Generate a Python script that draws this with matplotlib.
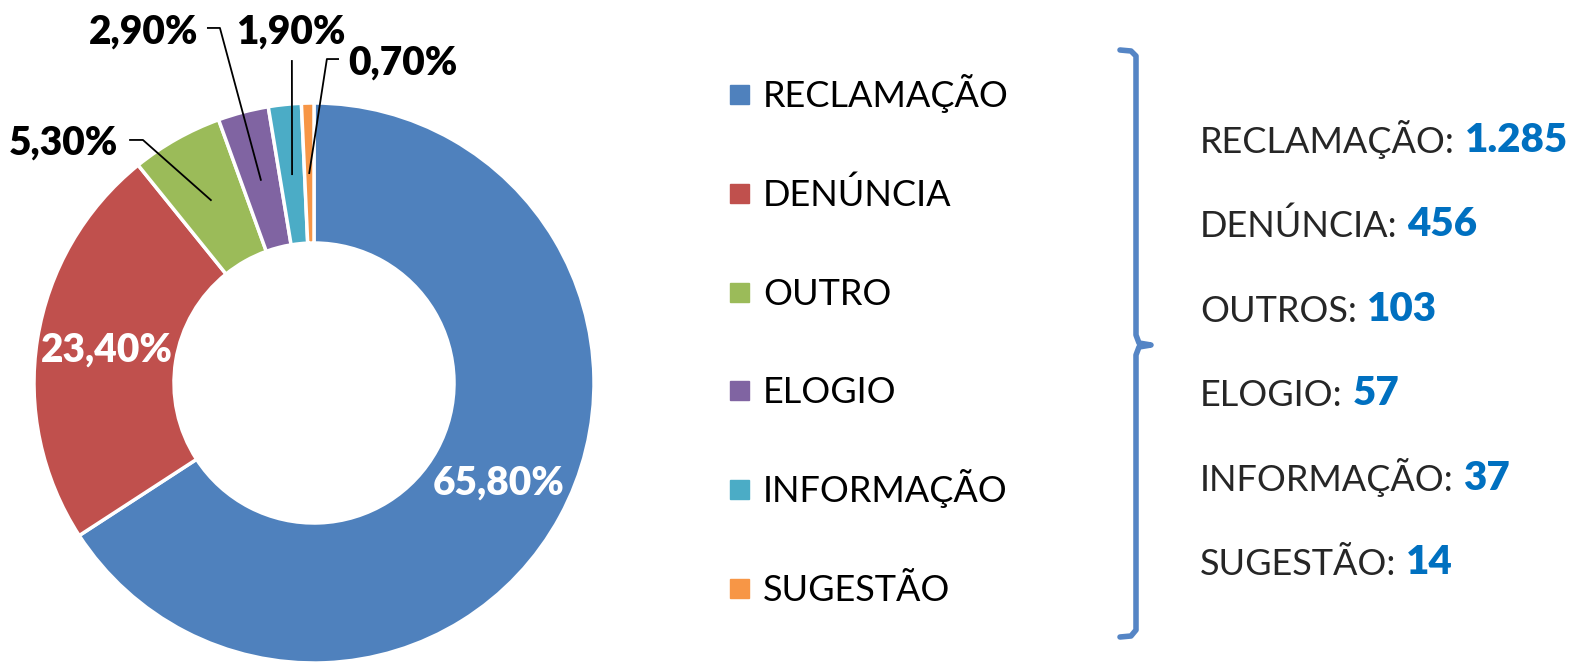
import numpy as np
import matplotlib.pyplot as plt
from matplotlib.patches import Rectangle

plt.rcParams['font.family'] = ['Lato', 'DejaVu Sans']

# data
categories = ['RECLAMAÇÃO', 'DENÚNCIA', 'OUTRO', 'ELOGIO', 'INFORMAÇÃO', 'SUGESTÃO']
side_names = ['RECLAMAÇÃO', 'DENÚNCIA', 'OUTROS', 'ELOGIO', 'INFORMAÇÃO', 'SUGESTÃO']
counts = [1285, 456, 103, 57, 37, 14]
pct_labels = [65.8, 23.4, 5.3, 2.9, 1.9, 0.7]
colors = ['#4F81BD', '#C0504D', '#9BBB59', '#8064A2', '#4BACC6', '#F79646']

W, H = 1578, 664
fig = plt.figure(figsize=(W / 100, H / 100), dpi=100)

# donut, centre at (314, 383) px, radius 280 px
ax = fig.add_axes([34 / W, 1 / H, 560 / W, 560 / H])
wedges, _ = ax.pie(counts, colors=colors, startangle=90, counterclock=False,
                   radius=1, wedgeprops=dict(width=0.5, edgecolor='white', linewidth=2.5))
ax.set_xlim(-1, 1)
ax.set_ylim(-1, 1)
ax.set_aspect('equal')
ax.axis('off')

def fmt(p):
    return f'{p:.2f}'.replace('.', ',') + '%'

# label placement: inside for the big ones, outside with leader lines for the rest
# (text x, text y, ha, line start, elbow)
outside = {
    2: (-0.70, 0.857, 'right', (-0.657, 0.868), (-0.611, 0.868)),
    3: (-0.414, 1.254, 'right', (-0.379, 1.268), (-0.336, 1.268)),
    4: (-0.082, 1.254, 'center', (-0.079, 1.15), None),
    5: (0.121, 1.143, 'left', (0.086, 1.157), (0.046, 1.157)),
}

for i, w in enumerate(wedges):
    mid = np.deg2rad((w.theta1 + w.theta2) / 2)
    ax_, ay_ = 0.75 * np.cos(mid), 0.75 * np.sin(mid)
    if i in outside:
        tx, ty, ha, start, elbow = outside[i]
        ax.text(tx, ty, fmt(pct_labels[i]), ha=ha, va='center', fontsize=28,
                fontweight=800, color='black')
        pts = [start] + ([elbow] if elbow else []) + [(ax_, ay_)]
        xs, ys = zip(*pts)
        ax.plot(xs, ys, color='black', lw=1.3, clip_on=False)
    else:
        ax.text(ax_, ay_, fmt(pct_labels[i]), ha='center', va='center', fontsize=28,
                fontweight=800, color='white')

# overlay in pixel coords for legend, bracket and totals
ov = fig.add_axes([0, 0, 1, 1])
ov.set_xlim(0, W)
ov.set_ylim(H, 0)
ov.axis('off')

for i, (lab, c) in enumerate(zip(categories, colors)):
    base = 107 + i * 98.8
    ov.add_patch(Rectangle((730, base - 22), 19, 19, color=c))
    ov.text(763, base, lab, va='baseline', ha='left', fontsize=26, color='black')

# bracket
bx = [1120, 1131, 1136, 1136, 1139, 1151, 1139, 1136, 1136, 1131, 1120]
by = [50, 51, 56, 335, 343, 345, 347, 355, 630, 636, 637]
ov.plot(bx, by, color='#5585C5', lw=4, solid_capstyle='round', solid_joinstyle='round')

for i, (name, n) in enumerate(zip(side_names, counts)):
    base = 153 + i * 84.4
    t = ov.text(1200, base, name + ':', va='baseline', ha='left', fontsize=26, color='#262626')
    ov.annotate(f'{n:,}'.replace(',', '.'), xy=(1, 0), xycoords=t, xytext=(7, 0),
                textcoords='offset points', va='bottom', ha='left', fontsize=29,
                fontweight=800, color='#0070C0')

fig.savefig('out.png', dpi=100, facecolor='white')
